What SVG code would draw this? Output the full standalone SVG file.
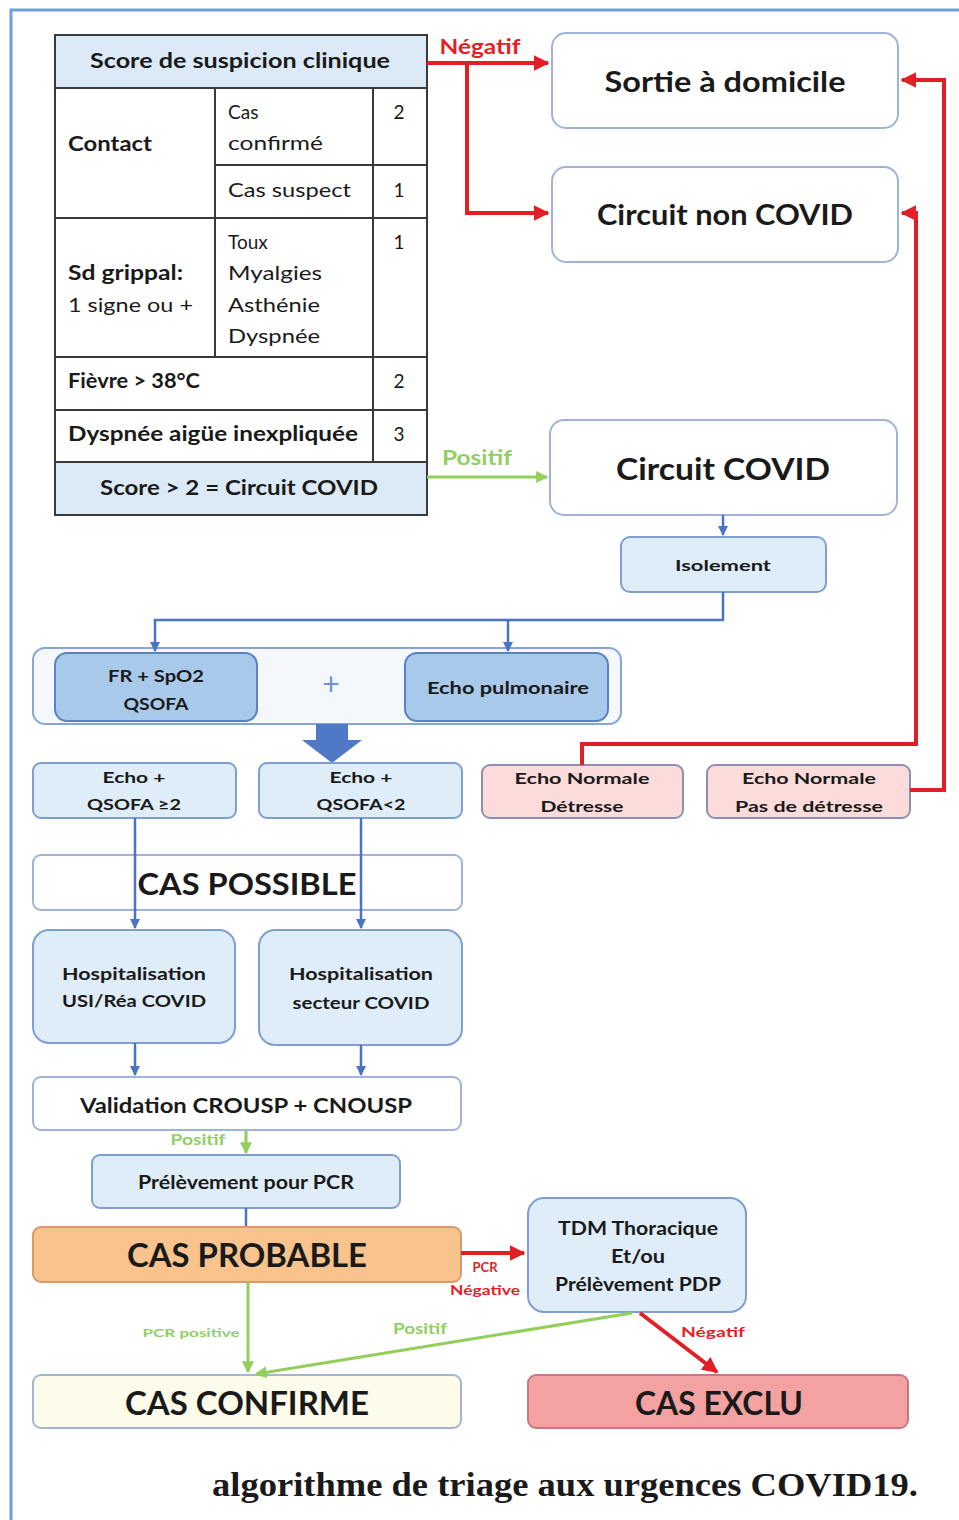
<svg xmlns="http://www.w3.org/2000/svg" width="959" height="1520" viewBox="0 0 959 1520">
<defs>
<style>
text{font-family:"Lato","Liberation Sans",sans-serif;fill:#1a1a1a;dominant-baseline:central}
.b{font-weight:bold}
.c{text-anchor:middle}
.box{fill:#ffffff;stroke:#9fb3da;stroke-width:2}
.lb{fill:#deedf8;stroke:#7f9fd0;stroke-width:2}
.mb{fill:#a9c9ea;stroke:#5a82c2;stroke-width:2}
.pk{fill:#fbdcdb;stroke:#8e8fb0;stroke-width:2}
.tl{stroke:#3a3a3a;stroke-width:2;fill:none}
.red{stroke:#e21f26;stroke-width:4;fill:none}
.blu{stroke:#4a74c2;stroke-width:2.5;fill:none}
.grn{stroke:#92cf5a;stroke-width:3;fill:none}
.rt{fill:#e21f26;font-weight:bold}
.gt{fill:#8fcf63;font-weight:bold}
</style>
<marker id="ar" viewBox="0 0 10 10" refX="9" refY="5" markerWidth="4" markerHeight="4" orient="auto" markerUnits="strokeWidth"><path d="M0,0 L10,5 L0,10 z" fill="#e21f26"/></marker>
<marker id="ab" viewBox="0 0 10 10" refX="9" refY="5" markerWidth="4" markerHeight="4" orient="auto" markerUnits="strokeWidth"><path d="M0,0 L10,5 L0,10 z" fill="#4a74c2"/></marker>
<marker id="ag" viewBox="0 0 10 10" refX="9" refY="5" markerWidth="4" markerHeight="4" orient="auto" markerUnits="strokeWidth"><path d="M0,0 L10,5 L0,10 z" fill="#92cf5a"/></marker>
</defs>
<rect x="0" y="0" width="959" height="1520" fill="#ffffff"/>
<path d="M11,1520 V10 H959" fill="none" stroke="#6f9fd6" stroke-width="3"/>

<g id="table">
<rect x="55" y="35" width="372" height="53" fill="#dbeaf6"/>
<rect x="55" y="462" width="372" height="53" fill="#dbeaf6"/>
<rect x="55" y="35" width="372" height="480" class="tl"/>
<path class="tl" d="M55,88 H427 M215,165 H427 M55,218 H427 M55,357 H427 M55,410 H427 M55,462 H427 M215,88 V357 M373,88 V462"/>
<text x="240" y="60" class="b c" font-size="20" textLength="300" lengthAdjust="spacingAndGlyphs">Score de suspicion clinique</text>
<text x="68" y="143" class="b" font-size="20" textLength="84" lengthAdjust="spacingAndGlyphs">Contact</text>
<text x="228" y="111" font-size="19">Cas</text>
<text x="228" y="142" font-size="19" textLength="95" lengthAdjust="spacingAndGlyphs">confirmé</text>
<text x="399" y="111" class="c" font-size="19">2</text>
<text x="228" y="189" font-size="19" textLength="123" lengthAdjust="spacingAndGlyphs">Cas suspect</text>
<text x="399" y="189" class="c" font-size="19">1</text>
<text x="68" y="272" class="b" font-size="20" textLength="115" lengthAdjust="spacingAndGlyphs">Sd grippal:</text>
<text x="68" y="304" font-size="19" textLength="125" lengthAdjust="spacingAndGlyphs">1 signe ou +</text>
<text x="228" y="241" font-size="19">Toux</text>
<text x="228" y="272" font-size="19" textLength="94" lengthAdjust="spacingAndGlyphs">Myalgies</text>
<text x="228" y="304" font-size="19" textLength="92" lengthAdjust="spacingAndGlyphs">Asthénie</text>
<text x="228" y="335" font-size="19" textLength="92" lengthAdjust="spacingAndGlyphs">Dyspnée</text>
<text x="399" y="241" class="c" font-size="19">1</text>
<text x="68" y="380" class="b" font-size="20" textLength="132" lengthAdjust="spacingAndGlyphs">Fièvre &gt; 38°C</text>
<text x="399" y="380" class="c" font-size="19">2</text>
<text x="68" y="433" class="b" font-size="20" textLength="290" lengthAdjust="spacingAndGlyphs">Dyspnée aigüe inexpliquée</text>
<text x="399" y="433" class="c" font-size="19">3</text>
<text x="239" y="486" class="b c" font-size="21" textLength="278" lengthAdjust="spacingAndGlyphs">Score &gt; 2 = Circuit COVID</text>
</g>

<g id="sortie"><rect x="552" y="33" width="346" height="95" rx="14" class="box"/>
<text x="725" y="81" class="b c" font-size="28" textLength="241" lengthAdjust="spacingAndGlyphs">Sortie à domicile</text></g>
<g id="noncovid"><rect x="552" y="167" width="346" height="95" rx="14" class="box"/>
<text x="725" y="214" class="b c" font-size="28" textLength="256" lengthAdjust="spacingAndGlyphs">Circuit non COVID</text></g>
<g id="covid"><rect x="550" y="420" width="347" height="95" rx="14" class="box"/>
<text x="723" y="468" class="b c" font-size="31" textLength="214" lengthAdjust="spacingAndGlyphs">Circuit COVID</text></g>
<g id="isolement"><rect x="621" y="537" width="205" height="55" rx="9" class="lb"/>
<text x="723" y="564" class="b c" font-size="16" textLength="96" lengthAdjust="spacingAndGlyphs">Isolement</text></g>

<g id="bilan"><rect x="33" y="648" width="588" height="76" rx="12" fill="#f4f8fc" stroke="#8aa5d5" stroke-width="2"/>
<text x="331" y="683" class="c" font-size="30" style="fill:#6d95d4">+</text></g>
<g id="fr"><rect x="55" y="653" width="202" height="68" rx="12" class="mb"/>
<text x="156" y="675" class="b c" font-size="17" textLength="96" lengthAdjust="spacingAndGlyphs">FR + SpO2</text>
<text x="156" y="703" class="b c" font-size="17" textLength="65" lengthAdjust="spacingAndGlyphs">QSOFA</text></g>
<g id="echopulm"><rect x="405" y="653" width="203" height="68" rx="12" class="mb"/>
<text x="508" y="687" class="b c" font-size="17" textLength="162" lengthAdjust="spacingAndGlyphs">Echo pulmonaire</text></g>

<g id="bigarrow"><polygon points="316,724 348,724 348,740 362,740 332,763 302,740 316,740" fill="#4f79c6"/></g>

<g id="e1"><rect x="33" y="763" width="203" height="55" rx="8" class="lb"/>
<text x="134" y="776" class="b c" font-size="16" textLength="63" lengthAdjust="spacingAndGlyphs">Echo +</text>
<text x="134" y="803" class="b c" font-size="16" textLength="94" lengthAdjust="spacingAndGlyphs">QSOFA ≥2</text></g>
<g id="e2"><rect x="259" y="763" width="203" height="55" rx="8" class="lb"/>
<text x="361" y="776" class="b c" font-size="16" textLength="63" lengthAdjust="spacingAndGlyphs">Echo +</text>
<text x="361" y="803" class="b c" font-size="16" textLength="89" lengthAdjust="spacingAndGlyphs">QSOFA&lt;2</text></g>
<g id="e3"><rect x="482" y="765" width="201" height="53" rx="8" class="pk"/>
<text x="582" y="777" class="b c" font-size="16" textLength="135" lengthAdjust="spacingAndGlyphs">Echo Normale</text>
<text x="582" y="805" class="b c" font-size="16" textLength="83" lengthAdjust="spacingAndGlyphs">Détresse</text></g>
<g id="e4"><rect x="707" y="765" width="203" height="53" rx="8" class="pk"/>
<text x="809" y="777" class="b c" font-size="16" textLength="134" lengthAdjust="spacingAndGlyphs">Echo Normale</text>
<text x="809" y="805" class="b c" font-size="16" textLength="148" lengthAdjust="spacingAndGlyphs">Pas de détresse</text></g>

<g id="possible"><rect x="33" y="855" width="429" height="55" rx="8" class="box"/>
<text x="247" y="883" class="b c" font-size="30" textLength="219" lengthAdjust="spacingAndGlyphs">CAS POSSIBLE</text></g>

<g id="h1"><rect x="33" y="930" width="202" height="113" rx="16" class="lb"/>
<text x="134" y="973" class="b c" font-size="17" textLength="144" lengthAdjust="spacingAndGlyphs">Hospitalisation</text>
<text x="134" y="1000" class="b c" font-size="17" textLength="144" lengthAdjust="spacingAndGlyphs">USI/Réa COVID</text></g>
<g id="h2"><rect x="259" y="930" width="203" height="115" rx="16" class="lb"/>
<text x="361" y="973" class="b c" font-size="17" textLength="144" lengthAdjust="spacingAndGlyphs">Hospitalisation</text>
<text x="361" y="1002" class="b c" font-size="17" textLength="137" lengthAdjust="spacingAndGlyphs">secteur COVID</text></g>

<g id="validation"><rect x="33" y="1077" width="428" height="53" rx="8" class="box"/>
<text x="246" y="1104" class="b c" font-size="21" textLength="332" lengthAdjust="spacingAndGlyphs">Validation CROUSP + CNOUSP</text></g>
<g id="pcr"><rect x="92" y="1155" width="308" height="53" rx="8" class="lb"/>
<text x="246" y="1182" class="b c" font-size="18" textLength="216" lengthAdjust="spacingAndGlyphs">Prélèvement pour PCR</text></g>
<g id="probable"><rect x="33" y="1227" width="428" height="55" rx="8" fill="#f8c38d" stroke="#d99a6c" stroke-width="2"/>
<text x="247" y="1254" class="b c" font-size="32" textLength="240" lengthAdjust="spacingAndGlyphs">CAS PROBABLE</text></g>
<g id="tdm"><rect x="528" y="1198" width="218" height="114" rx="16" class="lb"/>
<text x="638" y="1228" class="b c" font-size="18" textLength="160" lengthAdjust="spacingAndGlyphs">TDM Thoracique</text>
<text x="638" y="1256" class="b c" font-size="18" textLength="54" lengthAdjust="spacingAndGlyphs">Et/ou</text>
<text x="638" y="1284" class="b c" font-size="18" textLength="166" lengthAdjust="spacingAndGlyphs">Prélèvement PDP</text></g>
<g id="confirme"><rect x="33" y="1375" width="428" height="53" rx="8" fill="#fdfbea" stroke="#a3b5d2" stroke-width="2"/>
<text x="247" y="1402" class="b c" font-size="32" textLength="244" lengthAdjust="spacingAndGlyphs">CAS CONFIRME</text></g>
<g id="exclu"><rect x="528" y="1375" width="380" height="53" rx="8" fill="#f3a1a1" stroke="#c47a84" stroke-width="2"/>
<text x="719" y="1402" class="b c" font-size="32" textLength="168" lengthAdjust="spacingAndGlyphs">CAS EXCLU</text></g>

<g id="connectors">
<path class="red" d="M427,63 H548" marker-end="url(#ar)"/>
<path class="red" d="M467,63 V213 H548" marker-end="url(#ar)"/>
<path class="red" d="M910,790 H944 V80 H902" marker-end="url(#ar)"/>
<path class="red" d="M582,765 V744 H916 V213 H902" marker-end="url(#ar)"/>
<path class="grn" d="M427,477 H547" marker-end="url(#ag)"/>
<path class="blu" d="M723,515 V535" marker-end="url(#ab)"/>
<path class="blu" d="M723,592 V620 H155 V651" marker-end="url(#ab)"/>
<path class="blu" d="M508,620 V651" marker-end="url(#ab)"/>
<path class="blu" d="M135,818 V928" marker-end="url(#ab)"/>
<path class="blu" d="M361,818 V928" marker-end="url(#ab)"/>
<path class="blu" d="M135,1043 V1075" marker-end="url(#ab)"/>
<path class="blu" d="M361,1045 V1075" marker-end="url(#ab)"/>
<path class="grn" d="M246,1131 V1153" marker-end="url(#ag)"/>
<path class="blu" d="M246,1208 V1226"/>
<path class="red" d="M461,1253 H524" marker-end="url(#ar)"/>
<path class="grn" d="M248,1282 V1372" marker-end="url(#ag)"/>
<path class="grn" d="M632,1313 L256,1374" marker-end="url(#ag)"/>
<path class="red" d="M640,1313 L717,1372" marker-end="url(#ar)"/>
<text x="480" y="46" class="rt c" font-size="20" textLength="81" lengthAdjust="spacingAndGlyphs">Négatif</text>
<text x="477" y="457" class="gt c" font-size="20" textLength="70" lengthAdjust="spacingAndGlyphs">Positif</text>
<text x="198" y="1139" class="gt c" font-size="15" textLength="55" lengthAdjust="spacingAndGlyphs">Positif</text>
<text x="485" y="1267" class="rt c" font-size="13">PCR</text>
<text x="485" y="1290" class="rt c" font-size="13" textLength="70" lengthAdjust="spacingAndGlyphs">Négative</text>
<text x="191" y="1332" class="gt c" font-size="12" textLength="97" lengthAdjust="spacingAndGlyphs">PCR positive</text>
<text x="420" y="1328" class="gt c" font-size="15" textLength="54" lengthAdjust="spacingAndGlyphs">Positif</text>
<text x="713" y="1331" class="rt c" font-size="14" textLength="64" lengthAdjust="spacingAndGlyphs">Négatif</text>
</g>

<text x="212" y="1485" font-family="Liberation Serif, serif" style="font-family:'Liberation Serif',serif" font-weight="bold" font-size="33" textLength="706" lengthAdjust="spacingAndGlyphs">algorithme de triage aux urgences COVID19.</text>
</svg>
